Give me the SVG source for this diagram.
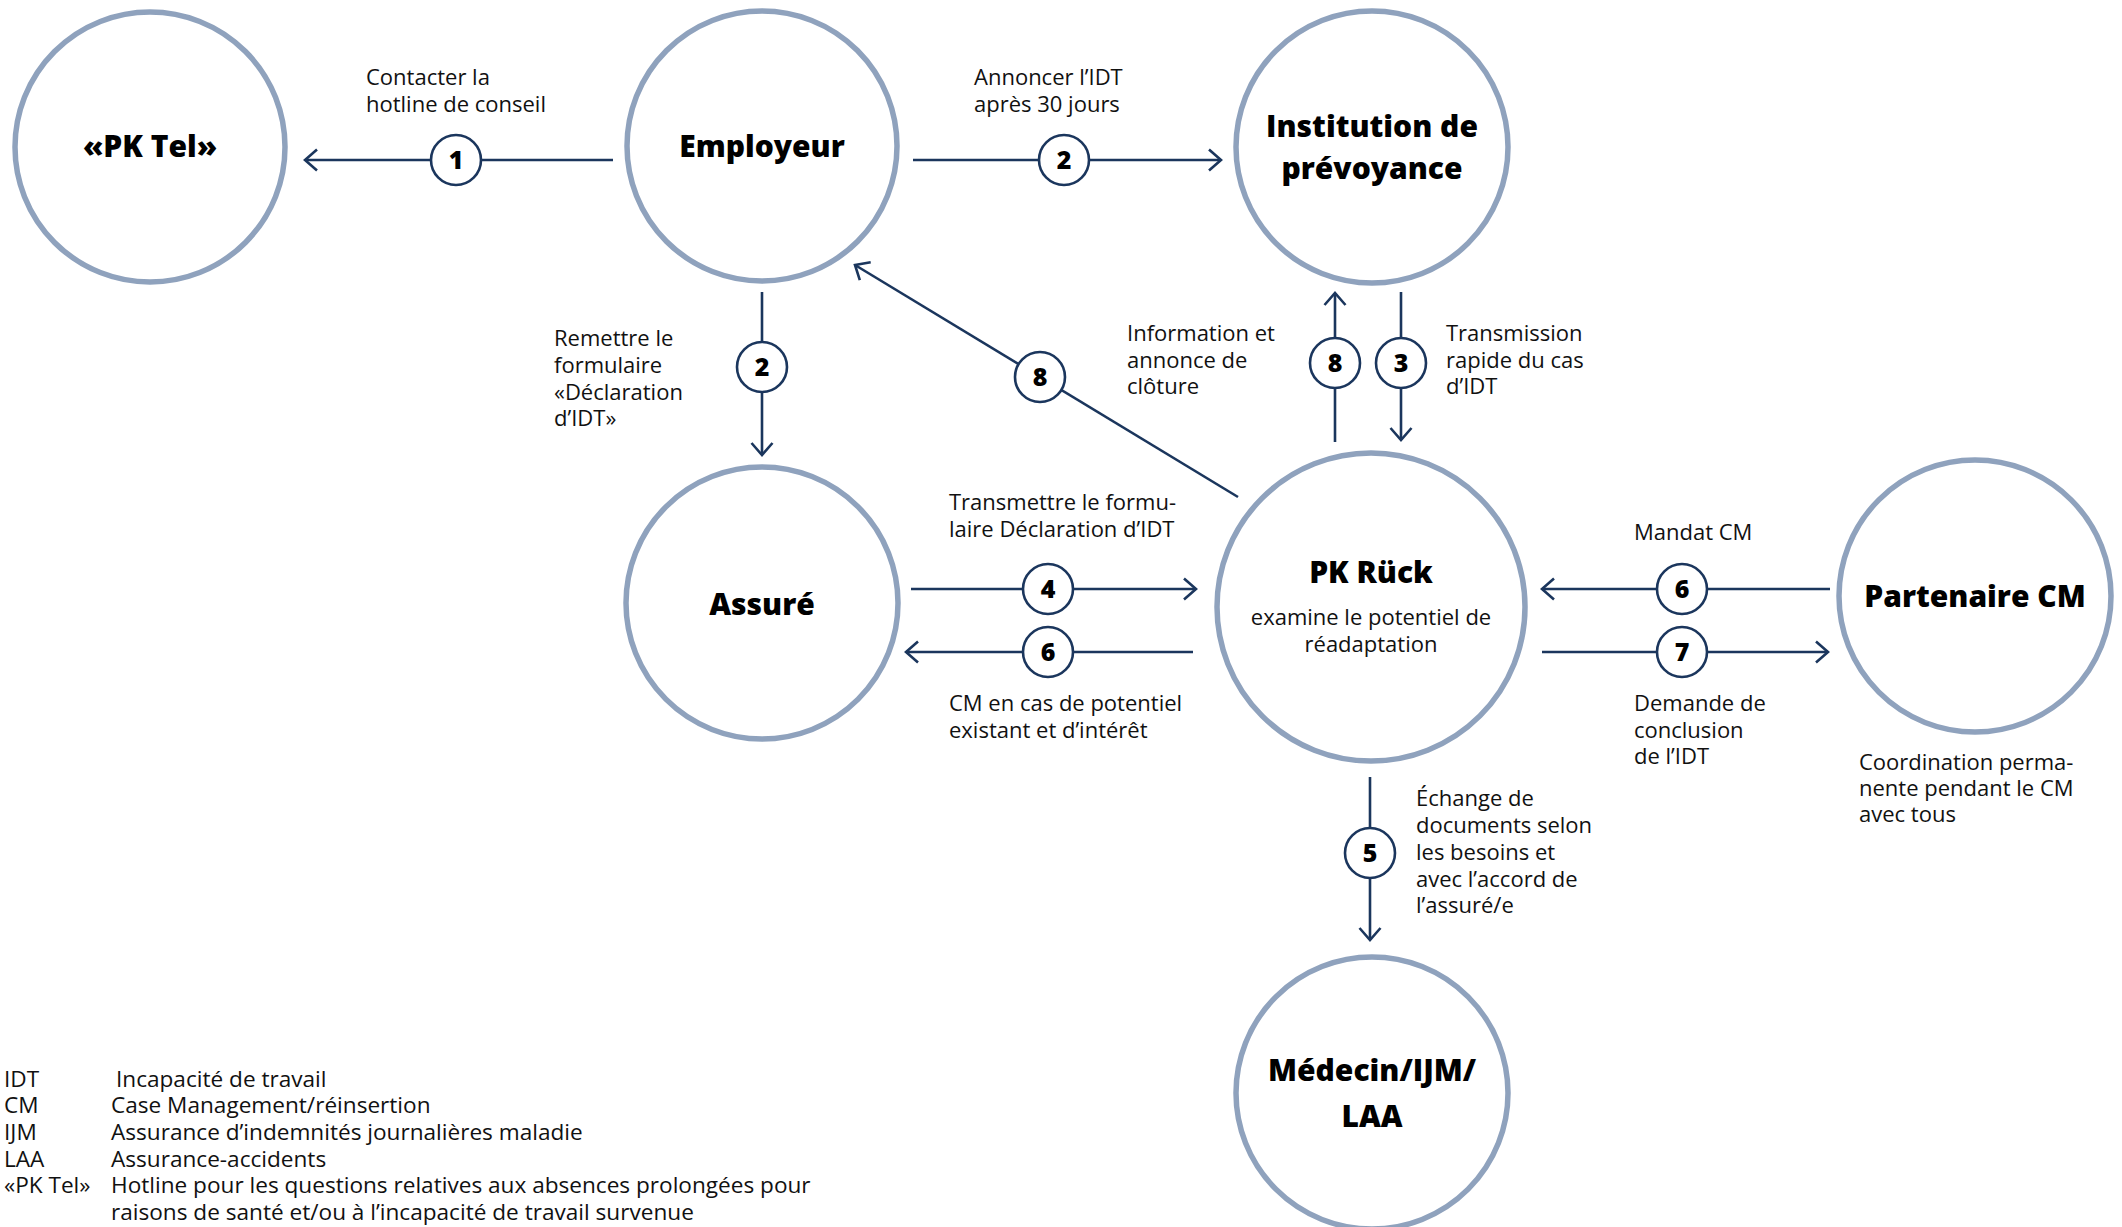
<svg xmlns="http://www.w3.org/2000/svg" width="2122" height="1227" viewBox="0 0 2122 1227">
<defs>
<style>
.node{fill:#ffffff;stroke:#8fa2bd;stroke-width:5.5}
.nt{font-family:"Open Sans","Noto Sans",sans-serif;font-weight:800;font-size:30px;fill:#000;text-anchor:middle}
.sub{font-family:"Open Sans","Noto Sans",sans-serif;font-size:22px;fill:#111;text-anchor:middle}
.lbl{font-family:"Open Sans","Noto Sans",sans-serif;font-size:22px;fill:#111}
.leg{font-family:"Open Sans","Noto Sans",sans-serif;font-size:22.6px;fill:#111}
.ln{fill:none;stroke:#1b365d;stroke-width:2.6}
.bd{fill:#ffffff;stroke:#1b365d;stroke-width:2.6}
.bn{font-family:"Open Sans","Noto Sans",sans-serif;font-weight:800;font-size:25px;fill:#000;text-anchor:middle}
</style>
<marker id="arr" markerUnits="userSpaceOnUse" markerWidth="30" markerHeight="30" viewBox="-15 -15 30 30" refX="0" refY="0" orient="auto">
<path d="M-12,-10.5 L0,0 L-12,10.5" fill="none" stroke="#1b365d" stroke-width="2.6"/>
</marker>
</defs>
<rect width="2122" height="1227" fill="#ffffff"/>

<g id="connectors">
<line class="ln" x1="613" y1="160" x2="305" y2="160" marker-end="url(#arr)"/>
<line class="ln" x1="913" y1="160" x2="1221" y2="160" marker-end="url(#arr)"/>
<line class="ln" x1="762" y1="292" x2="762" y2="455" marker-end="url(#arr)"/>
<line class="ln" x1="1238" y1="497" x2="855" y2="265" marker-end="url(#arr)"/>
<line class="ln" x1="1335" y1="442" x2="1335" y2="293" marker-end="url(#arr)"/>
<line class="ln" x1="1401" y1="292" x2="1401" y2="440" marker-end="url(#arr)"/>
<line class="ln" x1="911" y1="589" x2="1196" y2="589" marker-end="url(#arr)"/>
<line class="ln" x1="1193" y1="652" x2="906" y2="652" marker-end="url(#arr)"/>
<line class="ln" x1="1830" y1="589" x2="1542" y2="589" marker-end="url(#arr)"/>
<line class="ln" x1="1542" y1="652" x2="1828" y2="652" marker-end="url(#arr)"/>
<line class="ln" x1="1370" y1="777" x2="1370" y2="940" marker-end="url(#arr)"/>

<circle class="bd" cx="456" cy="160" r="25"/><text class="bn" x="456" y="169">1</text>
<circle class="bd" cx="1064" cy="160" r="25"/><text class="bn" x="1064" y="169">2</text>
<circle class="bd" cx="762" cy="367" r="25"/><text class="bn" x="762" y="376">2</text>
<circle class="bd" cx="1040" cy="377" r="25"/><text class="bn" x="1040" y="386">8</text>
<circle class="bd" cx="1335" cy="363" r="25"/><text class="bn" x="1335" y="372">8</text>
<circle class="bd" cx="1401" cy="363" r="25"/><text class="bn" x="1401" y="372">3</text>
<circle class="bd" cx="1048" cy="589" r="25"/><text class="bn" x="1048" y="598">4</text>
<circle class="bd" cx="1048" cy="652" r="25"/><text class="bn" x="1048" y="661">6</text>
<circle class="bd" cx="1682" cy="589" r="25"/><text class="bn" x="1682" y="598">6</text>
<circle class="bd" cx="1682" cy="652" r="25"/><text class="bn" x="1682" y="661">7</text>
<circle class="bd" cx="1370" cy="853" r="25"/><text class="bn" x="1370" y="862">5</text>

<text class="lbl" x="366" y="85">Contacter la</text>
<text class="lbl" x="366" y="112">hotline de conseil</text>
<text class="lbl" x="974" y="85">Annoncer l’IDT</text>
<text class="lbl" x="974" y="112">après 30 jours</text>
<text class="lbl" x="554" y="346">Remettre le</text>
<text class="lbl" x="554" y="373">formulaire</text>
<text class="lbl" x="554" y="400">«Déclaration</text>
<text class="lbl" x="554" y="426">d’IDT»</text>
<text class="lbl" x="1127" y="341">Information et</text>
<text class="lbl" x="1127" y="368">annonce de</text>
<text class="lbl" x="1127" y="394">clôture</text>
<text class="lbl" x="1446" y="341">Transmission</text>
<text class="lbl" x="1446" y="368">rapide du cas</text>
<text class="lbl" x="1446" y="394">d’IDT</text>
<text class="lbl" x="949" y="510">Transmettre le formu-</text>
<text class="lbl" x="949" y="537">laire Déclaration d’IDT</text>
<text class="lbl" x="949" y="711">CM en cas de potentiel</text>
<text class="lbl" x="949" y="738">existant et d’intérêt</text>
<text class="lbl" x="1634" y="540">Mandat CM</text>
<text class="lbl" x="1634" y="711">Demande de</text>
<text class="lbl" x="1634" y="738">conclusion</text>
<text class="lbl" x="1634" y="764">de l’IDT</text>
<text class="lbl" x="1416" y="806">Échange de</text>
<text class="lbl" x="1416" y="833">documents selon</text>
<text class="lbl" x="1416" y="860">les besoins et</text>
<text class="lbl" x="1416" y="887">avec l’accord de</text>
<text class="lbl" x="1416" y="913">l’assuré/e</text>
</g>

<g id="node-pktel">
<circle class="node" cx="150" cy="147" r="135"/>
<text class="nt" x="150" y="157">«PK Tel»</text>
</g>
<g id="node-employeur">
<circle class="node" cx="762" cy="146" r="135"/>
<text class="nt" x="762" y="157">Employeur</text>
</g>
<g id="node-institution">
<circle class="node" cx="1372" cy="147" r="136"/>
<text class="nt" x="1372" y="137">Institution de</text>
<text class="nt" x="1372" y="179">prévoyance</text>
</g>
<g id="node-assure">
<circle class="node" cx="762" cy="603" r="136"/>
<text class="nt" x="762" y="615">Assuré</text>
</g>
<g id="node-pkruck">
<circle class="node" cx="1371" cy="607" r="154"/>
<text class="nt" x="1371" y="583">PK Rück</text>
<text class="sub" x="1371" y="625">examine le potentiel de</text>
<text class="sub" x="1371" y="652">réadaptation</text>
</g>
<g id="node-partenaire">
<circle class="node" cx="1975" cy="596" r="136"/>
<text class="nt" x="1975" y="607">Partenaire CM</text>
<text class="lbl" x="1859" y="770">Coordination perma-</text>
<text class="lbl" x="1859" y="796">nente pendant le CM</text>
<text class="lbl" x="1859" y="822">avec tous</text>
</g>
<g id="node-medecin">
<circle class="node" cx="1372" cy="1093" r="136"/>
<text class="nt" x="1372" y="1081">Médecin/IJM/</text>
<text class="nt" x="1372" y="1127">LAA</text>
</g>

<g id="legend">
<text class="leg" x="4" y="1087">IDT</text>
<text class="leg" x="116" y="1087">Incapacité de travail</text>
<text class="leg" x="4" y="1113">CM</text>
<text class="leg" x="111" y="1113">Case Management/réinsertion</text>
<text class="leg" x="4" y="1140">IJM</text>
<text class="leg" x="111" y="1140">Assurance d’indemnités journalières maladie</text>
<text class="leg" x="4" y="1167">LAA</text>
<text class="leg" x="111" y="1167">Assurance-accidents</text>
<text class="leg" x="4" y="1193">«PK Tel»</text>
<text class="leg" x="111" y="1193">Hotline pour les questions relatives aux absences prolongées pour</text>
<text class="leg" x="111" y="1220">raisons de santé et/ou à l’incapacité de travail survenue</text>
</g>
</svg>
